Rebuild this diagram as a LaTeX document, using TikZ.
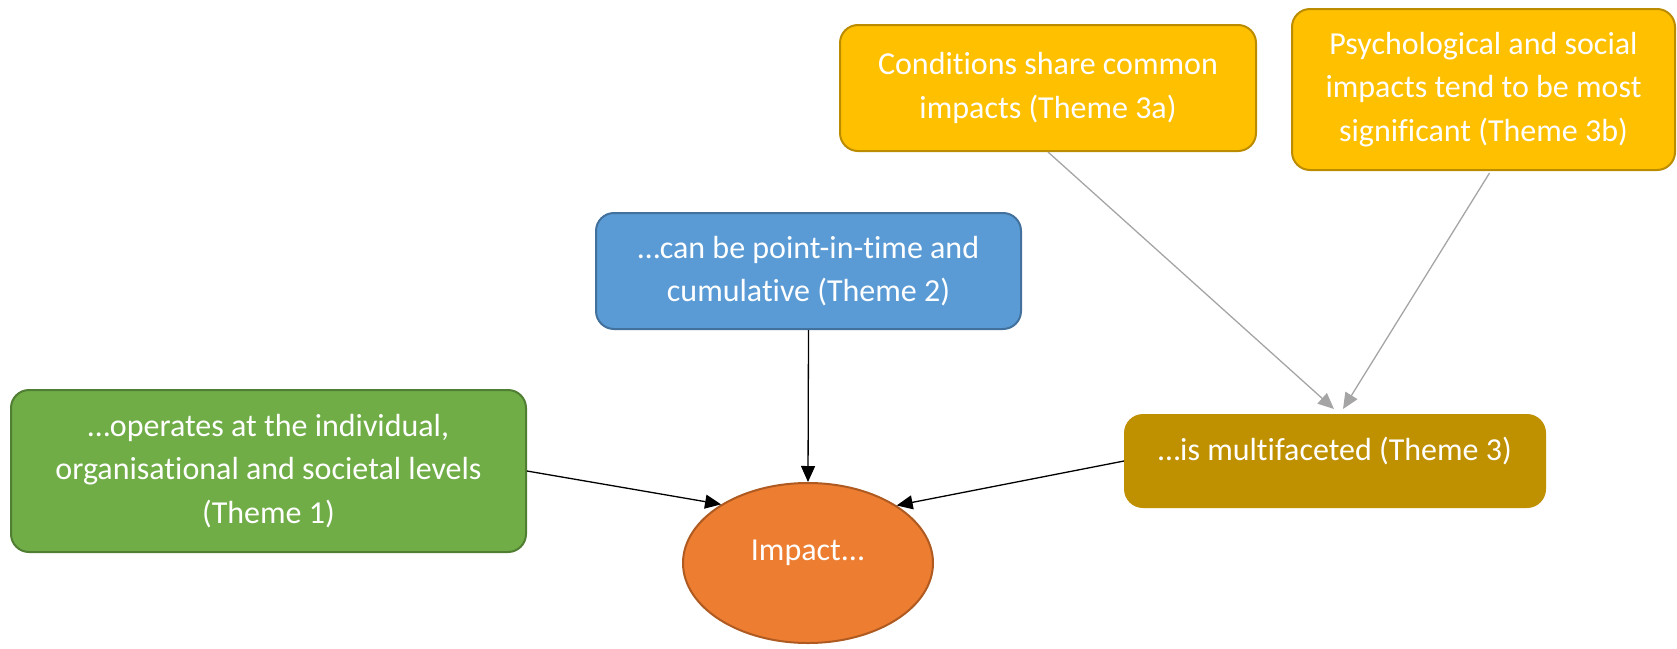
\documentclass[tikz,border=0pt]{standalone}
\usepackage{fontspec}
\setmainfont{Carlito}[Ligatures=CommonOff]
\usetikzlibrary{arrows.meta,shapes.geometric,calc}
\definecolor{grn}{HTML}{70AD47}
\definecolor{grnline}{HTML}{507E32}
\definecolor{blu}{HTML}{5B9BD5}
\definecolor{bluline}{HTML}{41719C}
\definecolor{org}{HTML}{ED7D31}
\definecolor{orgline}{HTML}{AE5A21}
\definecolor{ylw}{HTML}{FFC000}
\definecolor{ylwline}{HTML}{BC8C00}
\definecolor{gld}{HTML}{BF9000}
\definecolor{conn}{HTML}{A5A5A5}
\begin{document}
\begin{tikzpicture}[x=1pt,y=-1pt,
  txt/.style={text=white,font=\fontsize{32}{43.5}\selectfont,align=center},
  box/.style={txt,rounded corners=18pt,line width=2pt,inner sep=0pt},
  link/.style={line width=1.3pt,-{Triangle[length=16pt,width=14pt]}},
  sublink/.style={conn,line width=1.3pt,-{Triangle[length=16pt,width=14pt]}}]
\useasboundingbox (0,0) rectangle (1677,648);

% theme boxes
\node[box,fill=grn,draw=grnline,minimum width=515pt,minimum height=162pt] (t1) at (268.5,471)
  {…operates at the individual,\\organisational and societal levels\\(Theme 1)};
\node[box,fill=blu,draw=bluline,minimum width=425pt,minimum height=116pt] (t2) at (808.5,271)
  {…can be point-in-time and\\cumulative (Theme 2)};
\node[box,fill=gld,draw=gld,minimum width=420pt,minimum height=92pt,
  label={[txt,yshift=10pt]center:…is multifaceted (Theme 3)}] (t3) at (1335,461) {};
\node[box,fill=ylw,draw=ylwline,minimum width=416pt,minimum height=126pt] (t3a) at (1048,88)
  {Conditions share common\\impacts (Theme 3a)};
\node[box,fill=ylw,draw=ylwline,minimum width=383pt,minimum height=161pt] (t3b) at (1483.5,89.5)
  {Psychological and social\\impacts tend to be most\\significant (Theme 3b)};

% central ellipse
\node[ellipse,fill=org,draw=orgline,line width=2pt,minimum width=250pt,minimum height=160pt,
  inner sep=0pt,label={[txt,yshift=10pt]center:Impact...}] (imp) at (808,563) {};

% connectors
\draw[link] (t1.east) -- (imp.146);
\draw[link] (t2.south) -- (imp.north);
\draw[link] (t3.west) -- (imp.33);

\coordinate (m3a) at ($(t3.north)+(-1,-5)$);
\coordinate (m3b) at ($(t3.north)+(8,-5)$);
\draw[sublink] (t3a.south) -- (m3a);
\draw[sublink] ($(t3b.south)+(6,2)$) -- (m3b);
\end{tikzpicture}
\end{document}
